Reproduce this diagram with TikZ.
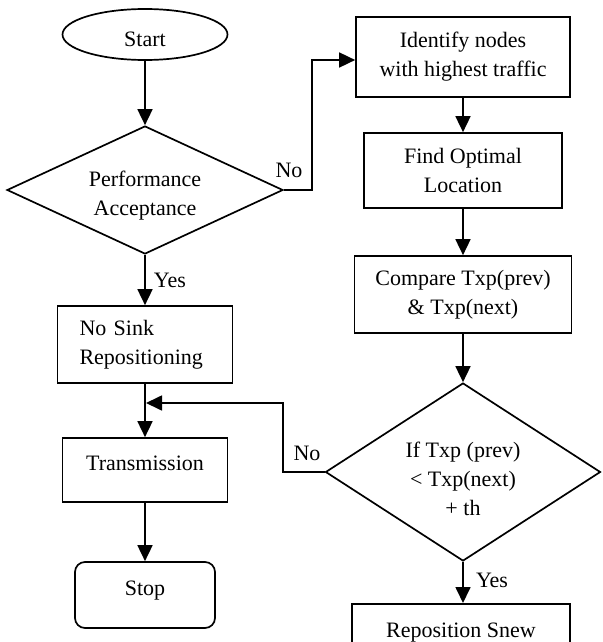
\documentclass[tikz,border=0pt]{standalone}
\usepackage{fontspec}
\setmainfont{Liberation Serif}
\usetikzlibrary{shapes.geometric,arrows.meta}
\tikzset{
  box/.style={draw, line width=1.7pt, align=center, inner sep=4pt},
  decision/.style={draw, diamond, line width=1.7pt, align=center, inner sep=0pt},
  flow/.style={line width=1.7pt, -{Triangle[length=16pt,width=15pt]}},
  lbl/.style={inner sep=0pt}
}
\begin{document}
\begin{tikzpicture}[x=1pt,y=-1pt,font=\fontsize{22}{29}\selectfont]
\useasboundingbox (0,0) rectangle (602,642);
\clip (0,0) rectangle (602,642);
% left column
\node[draw, ellipse, line width=1.7pt, minimum width=165pt, minimum height=51pt, inner sep=0pt, text height=24pt, text depth=0pt] (start) at (145,34.5) {Start};
\node[decision, aspect=2.16, minimum width=276pt, minimum height=128pt] (d1) at (145,190) {\rule{0pt}{27pt}Performance\\Acceptance};
\node[box, minimum width=175pt, minimum height=77pt, text width=131pt, align=left, inner xsep=22pt] (nosink) at (145,344.5) {No Sink\\Repositioning};
\node[box, minimum width=165pt, minimum height=64pt, text depth=14pt] (trans) at (145,470) {Transmission};
\node[box, rounded corners=10pt, minimum width=140pt, minimum height=66pt, text depth=14pt] (stop) at (145,595) {Stop};
% right column
\node[box, minimum width=214pt, minimum height=80pt] (ident) at (463,57) {Identify nodes\\with highest traffic};
\node[box, minimum width=198pt, minimum height=75pt] (find) at (463,170.5) {Find Optimal\\Location};
\node[box, minimum width=217pt, minimum height=77pt] (comp) at (463,294.5) {Compare Txp(prev)\\\& Txp(next)};
\node[decision, aspect=1.545, minimum width=275pt, minimum height=178pt] (d2) at (463,472) {\rule{0pt}{29pt}If Txp (prev)\\{<} Txp(next)\\+ th};
\node[box, anchor=north, minimum width=218pt, minimum height=80pt, inner ysep=0pt, text height=34pt, text depth=46pt] (repo) at (461,603) {Reposition Snew};
% connectors
\coordinate (n1) at (312,60);
\coordinate (n2) at (283,403);
\draw[flow] (start) -- (d1);
\draw[flow] (d1.east) -| (n1) -- (n1 -| ident.west);
\draw[flow] (ident) -- (find);
\draw[flow] (find) -- (comp);
\draw[flow] (comp) -- (d2);
\draw[flow] (d2.south) -- (d2.south |- repo.north);
\draw[flow] (d1) -- (nosink);
\draw[flow] (nosink) -- (trans);
\draw[flow] (trans) -- (stop);
\draw[flow, shorten >=1pt] (d2.west) -| (n2) -- (n2 -| trans.north);
% labels
\node[lbl] (no1) at (289,170) {No};
\node[lbl] (yes1) at (170,280) {Yes};
\node[lbl] (no2) at (307,453) {No};
\node[lbl] (yes2) at (492,580) {Yes};
\end{tikzpicture}
\end{document}
